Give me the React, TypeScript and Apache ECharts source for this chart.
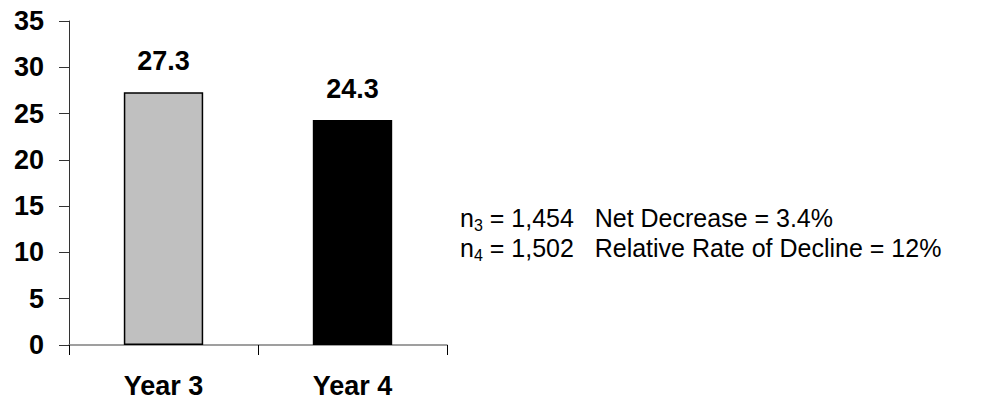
import React, { useEffect, useRef } from "react";
import * as echarts from "echarts";

const categories = ["Year 3", "Year 4"];
const values = [27.3, 24.3];
const barColors = ["#c0c0c0", "#000000"];
const yTicks = { min: 0, max: 35, interval: 5 };
const noteLines = [
  { sub: "3", n: "1,454", text: "Net Decrease = 3.4%" },
  { sub: "4", n: "1,502", text: "Relative Rate of Decline = 12%" },
];

const FONT = "'Liberation Sans', Arial, Helvetica, sans-serif";

export default function App() {
  const ref = useRef<HTMLDivElement>(null);
  useEffect(() => {
    if (!ref.current) return;
    const chart = echarts.init(ref.current, null, { renderer: "svg" });
    const noteText = noteLines
      .map((l) => `n{s|${l.sub}} = ${l.n}   ${l.text}`)
      .join("\n");
    chart.setOption({
      animation: false,
      backgroundColor: "#ffffff",
      grid: { left: 69, right: 555, top: 21, bottom: 61, containLabel: false },
      xAxis: {
        type: "category",
        data: categories,
        axisLine: { show: true, lineStyle: { color: "#808080", width: 1.5 } },
        axisTick: { show: true, length: 10, lineStyle: { color: "#000" } },
        axisLabel: {
          margin: 27,
          color: "#000",
          fontFamily: FONT,
          fontWeight: "bold",
          fontSize: 27,
        },
      },
      yAxis: {
        type: "value",
        min: yTicks.min,
        max: yTicks.max,
        interval: yTicks.interval,
        splitLine: { show: false },
        axisLine: { show: true, lineStyle: { color: "#333", width: 1 } },
        axisTick: { show: true, length: 10, lineStyle: { color: "#333" } },
        axisLabel: {
          margin: 25,
          color: "#000",
          fontFamily: FONT,
          fontWeight: "bold",
          fontSize: 27,
        },
      },
      series: [
        {
          type: "bar",
          data: values.map((v, i) => ({
            value: v,
            itemStyle: { color: barColors[i], borderColor: "#000", borderWidth: 1.5 },
          })),
          barWidth: "42%",
          label: {
            show: true,
            position: "top",
            distance: 18,
            color: "#000",
            fontFamily: FONT,
            fontWeight: "bold",
            fontSize: 27,
            formatter: "{c}",
          },
        },
      ],
      graphic: [
        {
          type: "text",
          left: 460,
          top: 203,
          style: {
            text: noteText,
            fill: "#000",
            fontFamily: FONT,
            fontSize: 25,
            lineHeight: 30,
            rich: {
              s: {
                fontFamily: FONT,
                fontSize: 16,
                lineHeight: 16,
                verticalAlign: "bottom",
                fill: "#000",
              },
            },
          },
        },
      ],
    });
    return () => chart.dispose();
  }, []);
  return (
    <div
      ref={ref}
      style={{ position: "fixed", left: 0, top: 0, width: 1002, height: 406, background: "#fff" }}
    />
  );
}
